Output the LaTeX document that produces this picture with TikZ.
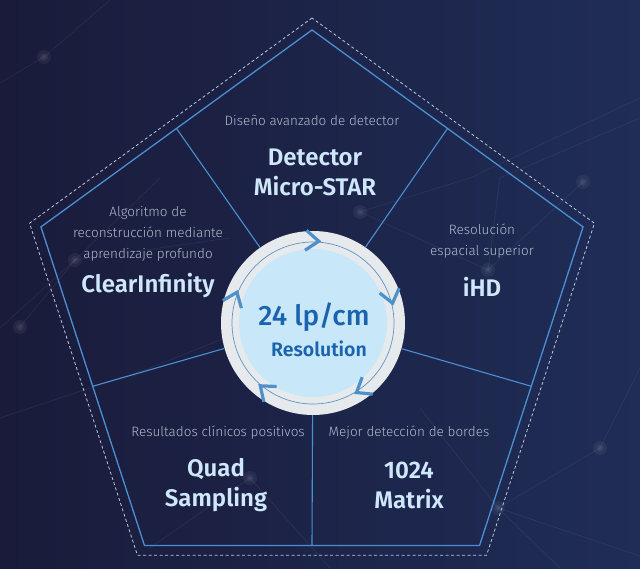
\documentclass[tikz,border=0pt]{standalone}
\usepackage{fontspec}
\setmainfont{Fira Sans}
\newfontfamily\lightfont{Fira Sans Light}
\newfontfamily\semifont{Fira Sans SemiBold}
\newfontfamily\medfont{Fira Sans Medium}
\usetikzlibrary{calc}
\definecolor{bgdark}{HTML}{1A1B3A}
\definecolor{bgblue}{HTML}{1F2D57}
\definecolor{lineblue}{HTML}{4A8FD2}
\definecolor{dashgray}{HTML}{B9C8DC}
\definecolor{subgray}{HTML}{AEBACC}
\definecolor{titleblue}{HTML}{CFE7FA}
\definecolor{ringgray}{HTML}{E7EAED}
\definecolor{diskblue}{HTML}{C8E7F9}
\definecolor{ringline}{HTML}{5E93C4}
\definecolor{chevblue}{HTML}{4E90C8}
\definecolor{centerblue}{HTML}{1A64AE}

\tikzset{
  tagline/.style={text=subgray, font=\lightfont\fontsize{13.5}{21}\selectfont, align=center},
  product/.style={text=titleblue, font=\semifont\fontsize{24}{30}\selectfont, align=center},
  spoke/.style={draw=lineblue, line width=1.1pt},
  chevron/.style={draw=chevblue, line width=3.2pt},
  web/.style={draw=white, opacity=0.06, line width=0.8pt},
  webdot/.style={fill=white, opacity=0.05},
}

\begin{document}
\begin{tikzpicture}[x=1pt, y=1pt]
    \shade [left color=bgdark, right color=bgblue] (0, 0) rectangle (640, 568);
    \useasboundingbox (0, 0) rectangle (640, 568);

    % faint network in the background
    \draw [web] (0, 485) -- (44, 511) -- (110, 568);
    \draw [web] (0, 240) -- (75, 308) -- (160, 390);
    \draw [web] (20, 241) -- (75, 308) -- (230, 330);
    \draw [web] (0, 150) -- (150, 200) -- (300, 260);
    \draw [web] (360, 356) -- (488, 298) -- (583, 386);
    \draw [web] (488, 298) -- (500, 390) -- (640, 450);
    \draw [web] (360, 356) -- (470, 390) -- (640, 470);
    \draw [web] (498, 60) -- (640, 12);
    \draw [web] (420, 160) -- (498, 60) -- (560, 0);
    \draw [web] (498, 60) -- (600, 120) -- (640, 200);
    \draw [web] (150, 20) -- (250, 90) -- (330, 0);
    \foreach \p in {(44, 511), (75, 308), (20, 241), (360, 356), (488, 298), (583, 386), (498, 60), (600, 120), (250, 90)} {
        \fill [webdot] \p circle (7);
        \fill [webdot] \p circle (4);
        \fill [webdot] \p circle (2);
    }

    % pentagon frame
    \begin{scope}[shift={(312, 253)}]
        \foreach \i in {0, ..., 4} {
            \coordinate (v\i) at (90 + 72 * \i : 285);
            \coordinate (w\i) at (90 + 72 * \i : 297);
        }
        \foreach \i/\j in {0/1, 1/2, 2/3, 3/4, 4/0}
            \coordinate (m\i) at ($(v\i)!0.5!(v\j)$);
    \end{scope}
    \draw [dashgray, line width=0.8pt, dash pattern=on 3pt off 2.5pt] (w0) -- (w1) -- (w2) -- (w3) -- (w4) -- cycle;
    \draw [lineblue, line width=1.3pt] (v0) -- (v1) -- (v2) -- (v3) -- (v4) -- cycle;

    % hub and spokes
    \node [circle, fill=ringgray, minimum size=184, inner sep=0] (hub) at (313, 245) {};
    \foreach \i in {0, ..., 4}
        \draw [spoke] (hub) -- (m\i);
    \node [circle, fill=diskblue, minimum size=148, inner sep=0] (disk) at (hub.center) {};
    \draw [ringline, line width=0.7pt] (hub.center) circle (81);
    \foreach \a in {86, 14, -58, -130, -202} {
        \begin{scope}[shift={(hub.center)}, rotate=\a]
            \draw [chevron] (92, 13) -- (82, 0) -- (72, 13);
        \end{scope}
    }

    \node [text=centerblue, font=\medfont\fontsize{28}{30}\selectfont] (lpcm) at (314, 251) {24 lp/cm};
    \node [text=centerblue, font=\semifont\fontsize{19.5}{20}\selectfont] (res) at (319, 219) {Resolution};

    % the five sectors
    \node [tagline] (topsub) at (312, 448) {Diseño avanzado de detector};
    \node [product] (topname) at (315, 396) {Detector\\Micro-STAR};

    \node [tagline] (leftsub) at (148, 334) {Algoritmo de\\reconstrucción mediante\\aprendizaje profundo};
    \node [product] (leftname) at (148, 282) {ClearInfinity};

    \node [tagline] (rightsub) at (482, 327) {Resolución\\espacial superior};
    \node [product] (rightname) at (482, 281) {iHD};

    \node [tagline] (blsub) at (218, 135) {Resultados clínicos positivos};
    \node [product] (blname) at (216, 83) {Quad\\Sampling};

    \node [tagline] (brsub) at (409, 135) {Mejor detección de bordes};
    \node [product] (brname) at (409, 83) {1024\\Matrix};
\end{tikzpicture}
\end{document}
